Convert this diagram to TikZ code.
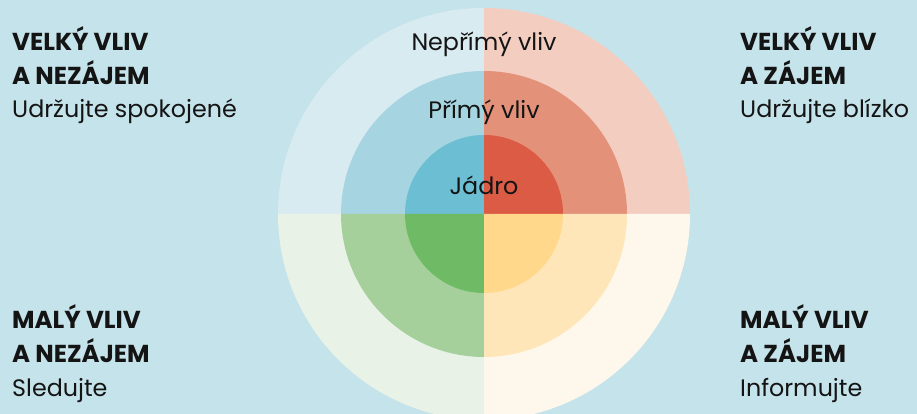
\documentclass[tikz,border=0pt]{standalone}
\usepackage{fontspec}
\setmainfont{Poppins}
\definecolor{bg}{HTML}{C5E3EA}
\definecolor{tlo}{HTML}{D8EBF1}
\definecolor{tlm}{HTML}{A6D4E0}
\definecolor{tli}{HTML}{6CBFD3}
\definecolor{tro}{HTML}{F3CEC0}
\definecolor{trm}{HTML}{E4917A}
\definecolor{tri}{HTML}{DC5B44}
\definecolor{blo}{HTML}{E9F2E7}
\definecolor{blm}{HTML}{A6D09B}
\definecolor{bli}{HTML}{6FBA65}
\definecolor{bro}{HTML}{FEF7EC}
\definecolor{brm}{HTML}{FFE6B8}
\definecolor{bri}{HTML}{FFD88C}
\definecolor{ink}{HTML}{141414}
\tikzset{
  head/.style={anchor=base west, inner sep=0pt, text=ink, font=\fontsize{24.5}{28}\selectfont\bfseries},
  sub/.style={anchor=base west, inner sep=0pt, text=ink, font=\fontsize{23.8}{28}\selectfont},
  ring/.style={anchor=base, inner sep=0pt, text=ink, font=\fontsize{23.8}{28}\selectfont},
}
\newcommand{\quadsector}[4]{% color, start angle, end angle, radius
  \fill[#1] (ctr) -- ++(#2:#4) arc[start angle=#2, end angle=#3, radius=#4] -- cycle;}
\begin{document}
\begin{tikzpicture}[x=1pt,y=1pt]
\useasboundingbox (0,0) rectangle (917,414);
\fill[bg] (0,0) rectangle (917,414);
\coordinate (ctr) at (484,200);
\begin{scope}
\clip (0,0) rectangle (917,414);
\quadsector{tlo}{90}{180}{206}
\quadsector{tro}{0}{90}{206}
\quadsector{blo}{180}{270}{206}
\quadsector{bro}{270}{360}{206}
\quadsector{tlm}{90}{180}{143}
\quadsector{trm}{0}{90}{143}
\quadsector{blm}{180}{270}{143}
\quadsector{brm}{270}{360}{143}
\quadsector{tli}{90}{180}{79}
\quadsector{tri}{0}{90}{79}
\quadsector{bli}{180}{270}{79}
\quadsector{bri}{270}{360}{79}
\end{scope}
\node[ring] (nepr) at (484,363) {Nepřímý vliv};
\node[ring] (prim) at (484,295) {Přímý vliv};
\node[ring] (jadro) at (484,219) {Jádro};
\node[head] (tl1) at (12,363) {VELKÝ VLIV};
\node[head] (tl2) at (12,329) {A NEZÁJEM};
\node[sub]  (tl3) at (12,296) {Udržujte spokojené};
\node[head] (tr1) at (740,363) {VELKÝ VLIV};
\node[head] (tr2) at (740,329) {A ZÁJEM};
\node[sub]  (tr3) at (740,296) {Udržujte blízko};
\node[head] (bl1) at (12,85) {MALÝ VLIV};
\node[head] (bl2) at (12,51) {A NEZÁJEM};
\node[sub]  (bl3) at (12,17) {Sledujte};
\node[head] (br1) at (740,85) {MALÝ VLIV};
\node[head] (br2) at (740,51) {A ZÁJEM};
\node[sub]  (br3) at (740,17) {Informujte};
\end{tikzpicture}
\end{document}
